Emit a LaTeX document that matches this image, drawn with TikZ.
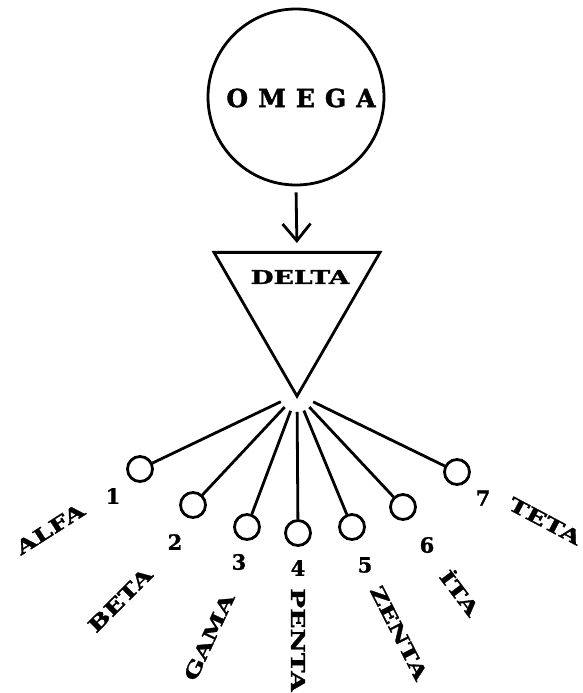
\documentclass[tikz,border=0pt]{standalone}
\usepackage{fontspec}
\setmainfont{DejaVu Serif}[FakeBold=1]
\newfontfamily\wideserif[FakeStretch=1.4,FakeBold=1.5]{DejaVu Serif}
\newfontfamily\spacedserif[LetterSpace=40,FakeBold=1.5]{DejaVu Serif}
\usetikzlibrary{positioning,arrows.meta,calc,shapes.geometric}

\begin{document}
\begin{tikzpicture}[x=1pt,y=-1pt,line width=2.8pt,
  ball/.style={circle,draw,minimum size=25pt,inner sep=0pt},
  num/.style={font=\fontsize{21}{21}\selectfont\bfseries,inner sep=0pt},
  tag/.style={font=\wideserif\fontsize{19}{19}\selectfont\bfseries,inner sep=0pt}]
\useasboundingbox (0,0) rectangle (583,693);
% omega circle on top, delta triangle below it
\node[circle,draw,minimum size=176pt,inner sep=0pt] (omega) at (296,97) {};
\node[font=\spacedserif\fontsize{25}{25}\selectfont\bfseries] (omegatxt) at (301,98) {OMEGA};
\node[regular polygon,regular polygon sides=3,shape border rotate=180,draw,
  minimum size=191.7pt,inner sep=0pt] (delta) at (297,300.3) {};
\node[tag] (deltatxt) at (300,277) {DELTA};
\draw[-{Straight Barb[length=17pt,width=28pt]},shorten <=6pt,shorten >=8pt] (omega.south) -- (delta.north);
% fan of seven rays with small circles
\coordinate (hub) at ($(delta.corner 1)+(0,-5)$);
\foreach \i/\px/\py in {1/140/469,2/193/505,3/247/527,4/298/533,5/352/527,6/403/507,7/457/472}{
  \node[ball] (c\i) at (\px,\py) {};
  \draw ($(hub)!18pt!(c\i)$) -- (c\i);
}
\foreach \i/\px/\py in {1/113/496,2/175/542,3/239/562,4/298/568,5/365/565,6/427/545,7/483/498}
  \node[num] (n\i) at (\px,\py) {\i};
% names, turned along the fan
\node[tag,rotate=32.5] (alfa) at (50,529) {ALFA};
\node[tag,rotate=45] (beta) at (120,600) {BETA};
\node[tag,rotate=65] (gama) at (209,637) {GAMA};
\node[tag,rotate=-90] (penta) at (298,640) {PENTA};
\node[tag,rotate=-63] (zenta) at (399,633) {ZENTA};
\node[tag,rotate=-53] (ita) at (461,592) {İTA};
\node[tag,rotate=-28] (teta) at (545,521) {TETA};
\end{tikzpicture}
\end{document}
